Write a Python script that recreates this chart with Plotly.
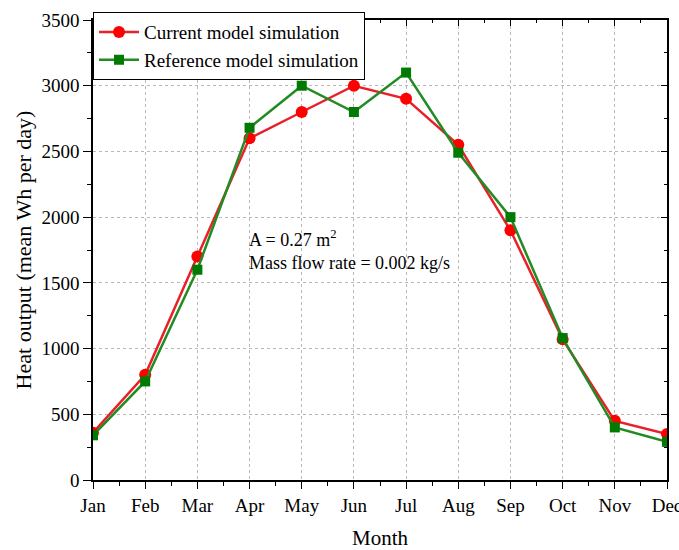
import plotly.graph_objects as go

months = ["Jan", "Feb", "Mar", "Apr", "May", "Jun", "Jul", "Aug", "Sep", "Oct", "Nov", "Dec"]
current = [360, 800, 1700, 2600, 2800, 3000, 2900, 2550, 1900, 1070, 450, 350]
reference = [340, 750, 1600, 2680, 3000, 2800, 3100, 2490, 2000, 1080, 400, 290]
y_ticks = [0, 500, 1000, 1500, 2000, 2500, 3000, 3500]

x = list(range(len(months)))
FONT = "Liberation Serif"

fig = go.Figure()
fig.add_trace(go.Scatter(
    x=x, y=current, mode="lines+markers", name="Current model simulation",
    line=dict(color="#E8202A", width=2.5),
    marker=dict(symbol="circle", size=12, color="#FF0000"),
))
fig.add_trace(go.Scatter(
    x=x, y=reference, mode="lines+markers", name="Reference model simulation",
    line=dict(color="#238B23", width=2.5),
    marker=dict(symbol="square", size=10, color="#007A00"),
))
# invisible trace to activate mirrored (top/right) axes with inward ticks
fig.add_trace(go.Scatter(
    x=x, y=current, xaxis="x2", yaxis="y2", mode="markers",
    marker=dict(opacity=0), showlegend=False, hoverinfo="skip",
))

fig.add_annotation(
    x=0.268, y=0.500, xref="paper", yref="paper", xanchor="left", yanchor="middle",
    text="A = 0.27 m<sup>2</sup><br>Mass flow rate = 0.002 kg/s",
    showarrow=False, align="left", font=dict(family=FONT, size=18, color="black"),
)

grid = dict(showgrid=True, gridcolor="#B8B8B8", griddash="dot", gridwidth=1)

fig.update_layout(
    width=679, height=550,
    margin=dict(l=93, r=12, t=20, b=70),
    paper_bgcolor="white", plot_bgcolor="white",
    font=dict(family=FONT, size=18, color="black"),
    showlegend=True,
    legend=dict(
        x=0.0, y=1.017, xanchor="left", yanchor="top",
        bgcolor="white", bordercolor="black", borderwidth=1,
        font=dict(family=FONT, size=19, color="black"),
        itemwidth=40, tracegroupgap=0,
    ),
    xaxis=dict(
        range=[0, 11], tickvals=x, ticktext=months, automargin=False,
        showline=True, linecolor="black", linewidth=1.5, mirror=True,
        ticks="outside", ticklen=7, tickcolor="black",
        zeroline=False, ticklabeloverflow="allow", **grid,
        minor=dict(tickvals=[i + 0.5 for i in range(11)], ticks="outside", ticklen=4, tickcolor="black", showgrid=False),
        title=dict(text="Month", font=dict(family=FONT, size=21), standoff=18),
        tickfont=dict(family=FONT, size=19),
    ),
    yaxis=dict(
        range=[0, 3500], tickvals=y_ticks, automargin=False,
        showline=True, linecolor="black", linewidth=1.5, mirror=True,
        ticks="outside", ticklen=8, tickcolor="black",
        zeroline=False, **grid,
        minor=dict(dtick=250, ticks="outside", ticklen=4, tickcolor="black", showgrid=False),
        title=dict(text="Heat output (mean Wh per day)", font=dict(family=FONT, size=22), standoff=4),
        tickfont=dict(family=FONT, size=19),
    ),
    xaxis2=dict(
        overlaying="x", side="top", range=[0, 11], tickvals=x, showticklabels=False,
        ticks="inside", ticklen=6, tickcolor="black", showgrid=False, zeroline=False,
        minor=dict(tickvals=[i + 0.5 for i in range(11)], ticks="inside", ticklen=3, tickcolor="black"),
    ),
    yaxis2=dict(
        overlaying="y", side="right", range=[0, 3500], tickvals=y_ticks, showticklabels=False,
        ticks="inside", ticklen=6, tickcolor="black", showgrid=False, zeroline=False,
        minor=dict(dtick=250, ticks="inside", ticklen=3, tickcolor="black"),
    ),
)

fig.write_html("out.html")
